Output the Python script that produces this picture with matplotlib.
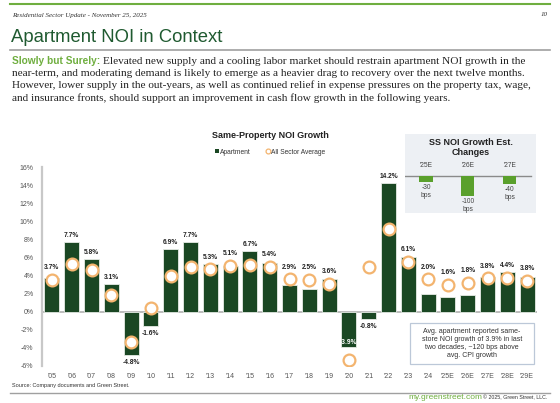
import matplotlib
matplotlib.use("Agg")
import matplotlib.pyplot as plt
from matplotlib.lines import Line2D
from matplotlib.patches import Patch, Rectangle

# data
years = ["'05", "'06", "'07", "'08", "'09", "'10", "'11", "'12", "'13", "'14", "'15", "'16", "'17",
         "'18", "'19", "'20", "'21", "'22", "'23", "'24", "'25E", "'26E", "'27E", "'28E", "'29E"]
apartment = [3.7, 7.7, 5.8, 3.1, -4.8, -1.6, 6.9, 7.7, 5.3, 5.1, 6.7, 5.4, 2.9,
             2.5, 3.6, -3.9, -0.8, 14.2, 6.1, 2.0, 1.6, 1.8, 3.8, 4.4, 3.8]
all_sector = [3.5, 5.3, 4.6, 1.9, -3.4, 0.4, 3.9, 5.0, 4.7, 5.1, 5.2, 5.0, 3.6,
              3.5, 3.1, -5.3, 4.9, 9.2, 5.5, 3.6, 3.0, 3.2, 3.7, 3.7, 3.4]
yticks = [-6, -4, -2, 0, 2, 4, 6, 8, 10, 12, 14, 16]

est_years = ["'25E", "'26E", "'27E"]
est_changes = [-30, -100, -40]

W, H = 560, 403
DARK = "#1a4723"
ORANGE = "#f3b46f"
LGREEN = "#6fae3f"


def fx(x):
    return x / W


def fy(y):
    return 1 - y / H


def box(x0, y0, x1, y1):
    return [fx(x0), fy(y1), (x1 - x0) / W, (y1 - y0) / H]


fig = plt.figure(figsize=(5.6, 4.03), dpi=100)
plt.rcParams['font.family'] = ['Liberation Sans', 'DejaVu Sans']

# page header
fig.add_artist(Line2D([fx(10), fx(550)], [fy(4), fy(4)], color=LGREEN, lw=1.5))
fig.text(fx(12), fy(15), "Residential Sector Update - November 25, 2025", family="Liberation Serif",
         style="italic", fontsize=5, color="#333333", va="center")
fig.text(fx(548), fy(15), "10", family="Liberation Serif", style="italic", fontsize=5,
         color="#333333", va="center", ha="right")
fig.text(fx(11), fy(37), "Apartment NOI in Context", fontsize=13.3, color="#1f5a30", va="center")
fig.add_artist(Line2D([fx(10), fx(550)], [fy(50), fy(50)], color="#a0a0a0", lw=1.2))

para = ["Elevated new supply and a cooling labor market should restrain apartment NOI growth in the",
        "near-term, and moderating demand is likely to emerge as a heavier drag to recovery over the next twelve months.",
        "However, lower supply in the out-years, as well as continued relief in expense pressures on the property tax, wage,",
        "and insurance fronts, should support an improvement in cash flow growth in the following years."]
lead = fig.text(fx(12), fy(61), "Slowly but Surely:", fontsize=7.3, weight="bold", color=LGREEN,
                va="center")
renderer = fig.canvas.get_renderer()
lead_end = lead.get_window_extent(renderer).x1
fig.text((lead_end + 3) / W, fy(61), para[0], family="Liberation Serif", fontsize=8.1,
         color="#222222", va="center")
for i, line in enumerate(para[1:]):
    fig.text(fx(12), fy(73.3 + 12.3 * i), line, family="Liberation Serif", fontsize=8.1,
             color="#222222", va="center")

# main chart
ax = fig.add_axes(box(42, 167, 537, 366))
x = list(range(len(years)))
ax.bar(x, apartment, width=0.76, color=DARK, edgecolor="#e6ece6", linewidth=0.6, zorder=2)
ax.plot(x, all_sector, "o", ms=8.5, mfc="white", mec=ORANGE, mew=1.6, zorder=3, ls="none")
ax.set_xlim(-0.5, 24.5)
ax.set_ylim(-6, 16)
ax.set_yticks(yticks)
ax.set_yticklabels([f"{v}%" for v in yticks])
ax.set_xticks(x)
ax.set_xticklabels(years)
ax.tick_params(axis="both", length=0, labelsize=5, labelcolor="#555555")
ax.tick_params(axis="y", pad=6)
ax.tick_params(axis="x", pad=5)
for s in ["top", "right", "bottom"]:
    ax.spines[s].set_visible(False)
ax.spines["left"].set_color("#c8c8c8")
ax.spines["left"].set_linewidth(1.6)
ax.axhline(0, color="#b0b0b0", lw=1.2, zorder=1)

for xi, a, s in zip(x, apartment, all_sector):
    lbl = f"{a:.1f}%"
    if a >= 0:
        top = max(a, s + 0.6)
        ax.text(xi, top + 0.35, lbl, ha="center", va="bottom", fontsize=4.8, weight="bold",
                color="#222222", zorder=4)
    elif years[xi] == "'20":
        ax.text(xi, a + 0.15, lbl, ha="center", va="bottom", fontsize=4.8, weight="bold",
                color="white", zorder=4)
    else:
        ax.text(xi, a - 0.4, lbl, ha="center", va="top", fontsize=4.8, weight="bold",
                color="#222222", zorder=4)

fig.text(fx(270), fy(135), "Same-Property NOI Growth", ha="center", va="center", fontsize=6.5,
         weight="bold", color="#222222")
handles = [Patch(facecolor=DARK, edgecolor="none"),
           Line2D([], [], marker="o", ls="none", mfc="white", mec=ORANGE, ms=3.5, mew=0.9)]
fig.legend(handles, ["Apartment", "All Sector Average"], loc="center", ncol=2,
           bbox_to_anchor=(fx(270), fy(152)), frameon=False, fontsize=4.8, handlelength=0.6,
           handleheight=0.6, handletextpad=0.2, columnspacing=2.2, labelcolor="#333333")

# inset: estimate changes
ins = fig.add_axes(box(405, 134, 536, 213))
ins.set_facecolor("#edf0f4")
for s in ins.spines.values():
    s.set_visible(False)
ins.set_xticks([])
ins.set_yticks([])
ins.set_xlim(-0.5, 2.62)
ins.set_ylim(-185, 210)
ins.plot([-0.5, 2.5], [0, 0], color="#8a8a8a", lw=1)
ins.bar(range(3), est_changes, width=0.31, color="#5aa02c", zorder=2)
for i, (yr, v) in enumerate(zip(est_years, est_changes)):
    ins.text(i, 35, yr, ha="center", va="bottom", fontsize=4.8, color="#444444")
    ins.text(i, v - 12, f"{v}\nbps", ha="center", va="top", fontsize=4.8, color="#444444",
             linespacing=1.05)
ins.text(0.5, 0.83, "SS NOI Growth Est.\nChanges", transform=ins.transAxes, ha="center", va="center",
         fontsize=6.5, weight="bold", color="#222222", linespacing=1.05)

# footnote box
fig.add_artist(Rectangle((fx(410), fy(364)), (534 - 410) / W, (364 - 323) / H,
                         transform=fig.transFigure, facecolor="white", edgecolor="#bcc8d8", lw=0.9,
                         zorder=5))
fig.text(fx(472), fy(343.5), "Avg. apartment reported same-\nstore NOI growth of 3.9% in last\n"
         "two decades, ~120 bps above\navg. CPI growth", ha="center", va="center", fontsize=5,
         color="#333333", linespacing=1.15, zorder=6)

# footer
fig.text(fx(12), fy(386), "Source: Company documents and Green Street.", fontsize=4, color="#333333",
         va="center")
fig.add_artist(Line2D([fx(10), fx(550)], [fy(393), fy(393)], color="#a0a0a0", lw=1))
fig.text(fx(482), fy(397.5), "my.greenstreet.com", fontsize=6, color=LGREEN, va="center", ha="right")
fig.text(fx(547), fy(397.5), "\u00a9 2025, Green Street, LLC.", fontsize=3.8, color="#333333",
         va="center", ha="right")

fig.savefig("out.png", dpi=100)
